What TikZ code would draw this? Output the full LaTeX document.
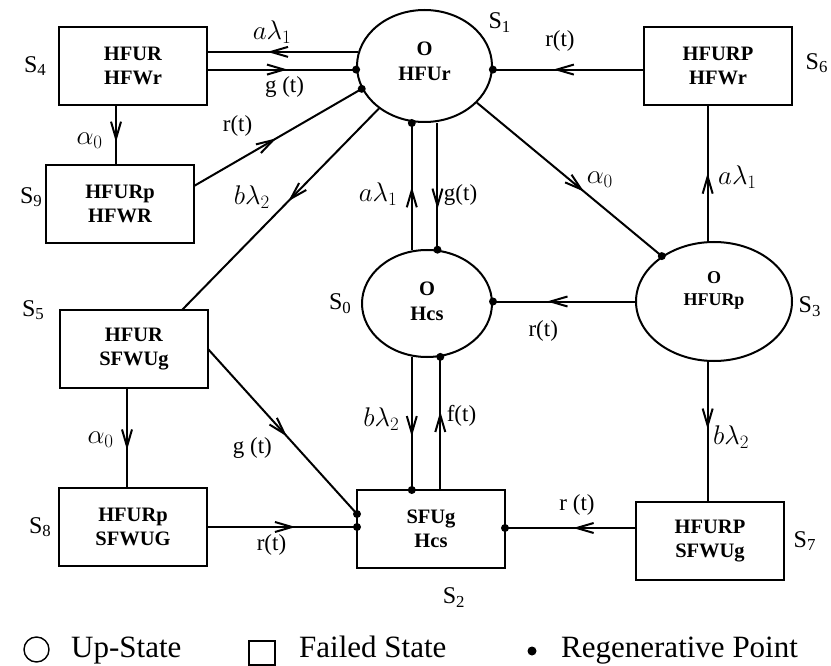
\RequirePackage{fix-cm}
\documentclass[tikz,border=0pt]{standalone}
\usepackage{fontspec}
\setmainfont{Liberation Serif}
\usetikzlibrary{shapes.geometric,positioning,arrows.meta,decorations.markings}

\begin{document}
\begin{tikzpicture}[x=1pt,y=-1pt]
  \tikzstyle{v}=[circle,fill=black,inner sep=0pt,minimum size=8pt]
  \tikzstyle{failed}=[draw,line width=2pt,minimum width=148pt,minimum height=78pt,inner sep=0pt,outer sep=0pt,align=center,font=\bfseries\fontsize{20.5}{24}\selectfont]
  \tikzstyle{up}=[draw,ellipse,line width=2pt,inner sep=0pt]
  \tikzstyle{stxt}=[align=center,font=\bfseries\fontsize{20.5}{25}\selectfont]
  \tikzstyle{lbl}=[font=\fontsize{23}{25}\selectfont,inner sep=1.5pt]
  \tikzstyle{mlbl}=[font=\fontsize{27}{29}\selectfont,inner sep=1.5pt]
  \tikzstyle{slbl}=[font=\fontsize{24}{26}\selectfont,inner sep=1.5pt]
  \tikzstyle{ltxt}=[font=\fontsize{31}{33}\selectfont,inner sep=0pt,anchor=base west]
  \tikzstyle{conn}=[line width=2pt]
  \tikzset{flow/.style={conn,postaction={decorate,decoration={markings,
    mark=at position #1 with {\arrow{Straight Barb[length=17pt,width=10pt]}}}}}}
  \useasboundingbox (0,0) rectangle (831,666);
  % Etats (ellipses = up, rectangles = failed)
  \node[up,minimum width=135pt,minimum height=112pt,label={[stxt,name=t1,yshift=4.5pt]center:{O\\HFUr}}] (s1) at (424.5,66) {};
  \node[up,minimum width=130pt,minimum height=107pt,label={[stxt,name=t0,yshift=2.5pt]center:{O\\Hcs}}] (s0) at (427,303.5) {};
  \node[up,minimum width=156pt,minimum height=119pt,label={[stxt,name=t3,yshift=11.5pt,font=\bfseries\fontsize{18}{22}\selectfont]center:{O\\HFURp}}] (s3) at (714,301.5) {};
  \node[failed] (s4) at (133,66) {HFUR\\HFWr};
  \node[failed] (s9) at (120,204) {HFURp\\HFWR};
  \node[failed] (s6) at (718,66) {HFURP\\HFWr};
  \node[failed] (s5) at (134,349) {HFUR\\SFWUg};
  \node[failed] (s8) at (133,527) {HFURp\\SFWUG};
  \node[failed] (s2) at (431,529) {SFUg\\Hcs};
  \node[failed] (s7) at (710,541) {HFURP\\SFWUg};
  % Noms des etats
  \node[slbl,right=14pt of s1.north east,yshift=3pt] (n1) {S\textsubscript{1}};
  \node[slbl,left=8pt of s0] (n0) {S\textsubscript{0}};
  \node[slbl,right=4pt of s3,yshift=-5pt] (n3) {S\textsubscript{3}};
  \node[slbl,left=11pt of s4] (n4) {S\textsubscript{4}};
  \node[slbl,left=2pt of s9,yshift=7pt] (n9) {S\textsubscript{9}};
  \node[slbl,right=12pt of s6,yshift=3pt] (n6) {S\textsubscript{6}};
  \node[slbl,left=14pt of s5.north west] (n5) {S\textsubscript{5}};
  \node[slbl,left=6pt of s8] (n8) {S\textsubscript{8}};
  \node[slbl,below=18pt of s2,xshift=23pt] (n2) {S\textsubscript{2}};
  \node[slbl,right=8pt of s7] (n7) {S\textsubscript{7}};
  % Transitions
  \draw[flow=.6] (s1.168) -- node[mlbl,pos=.57,above=6pt] (l1) {$a\lambda_1$} (s1.168 -| s4.east);
  \draw[flow=.54] (s1.183 -| s4.east) -- node[lbl,pos=.52,below=4pt] (l2) {g (t)} (s1.183) node[v] (d2) {};
  \draw[flow=.49] ([yshift=18pt]s9.east) -- node[lbl,pos=.26,above=22pt] (l3) {r(t)} (s1.200) node[v] (d3) {};
  \draw[flow=.62] ([xshift=-17pt]s4.south) -- node[mlbl,pos=.6,left=11pt] (l4) {$\alpha_0$} ([xshift=-17pt]s4.south |- s9.north);
  \draw[flow=.46] (s1.223) -- node[mlbl,pos=.44,left=20pt] (l5) {$b\lambda_2$} ([xshift=48pt]s5.north);
  \draw[flow=.58] (s1.325) -- node[mlbl,pos=.665,above=15pt] (l6) {$\alpha_0$} (s3.139) node[v] (d6) {};
  \draw[flow=.6] (s1.357 -| s6.west) -- node[lbl,pos=.556,above=16pt] (l7) {r(t)} (s1.357) node[v] (d7) {};
  \draw[flow=.5] (s3.96) -- node[mlbl,pos=.47,right=8pt] (l8) {$a\lambda_1$} (s3.96 |- s6.south);
  \draw[flow=.5] (s0.106) -- node[mlbl,pos=.44,left=12pt] (l9) {$a\lambda_1$} (s0.106 |- s1.south) node[v] (d9) {};
  \draw[flow=.68] (s0.79 |- s1.south) -- node[lbl,pos=.57,right=4pt] (l10) {g(t)} (s0.79) node[v] (d10) {};
  \draw[flow=.62] (s3.west) -- node[lbl,pos=.646,below=17pt] (l11) {r(t)} (s3.west -| s0.east) node[v] (d11) {};
  \draw[flow=.48] (s3.264) -- node[mlbl,pos=.54,right=3pt] (l12) {$b\lambda_2$} (s3.264 |- s7.north);
  \draw[flow=.6] (s0.254) -- node[mlbl,pos=.47,left=10pt] (l13) {$b\lambda_2$} (s0.254 |- s2.north) node[v] (d13) {};
  \draw[flow=.59] (s0.284 |- s2.north) -- node[lbl,pos=.56,right=4pt] (l14) {f(t)} (s0.284) node[v] (d14) {};
  \draw[flow=.53] (s5.east) -- node[lbl,pos=.6,left=23pt] (l15) {g (t)} ([yshift=15pt]s2.west) node[v] (d15) {};
  \draw[flow=.62] ([xshift=-7pt]s5.south) -- node[mlbl,pos=.52,left=11pt] (l16) {$\alpha_0$} ([xshift=-7pt]s5.south |- s8.north);
  \draw[flow=.59] (s8.east) -- node[lbl,pos=.43,below=5pt] (l17) {r(t)} (s8.east -| s2.west) node[v] (d17) {};
  \draw[flow=.48] ([yshift=13pt]s7.west) -- node[lbl,pos=.45,above=10pt] (l18) {r (t)} ([yshift=13pt]s7.west -| s2.east) node[v] (d18) {};
  % Legende
  \node[draw,circle,line width=1.4pt,minimum size=25pt,inner sep=0pt] (lg1) at (36.5,649.5) {};
  \node[ltxt] (lt1) at (71,657) {Up-State};
  \node[draw,line width=1.4pt,minimum width=26pt,minimum height=24pt,inner sep=0pt] (lg2) at (262,653) {};
  \node[ltxt] (lt2) at (299,657) {Failed State};
  \node[v,minimum size=9pt] (lg3) at (532,651) {};
  \node[ltxt] (lt3) at (561,657) {Regenerative Point};
\end{tikzpicture}
\end{document}
